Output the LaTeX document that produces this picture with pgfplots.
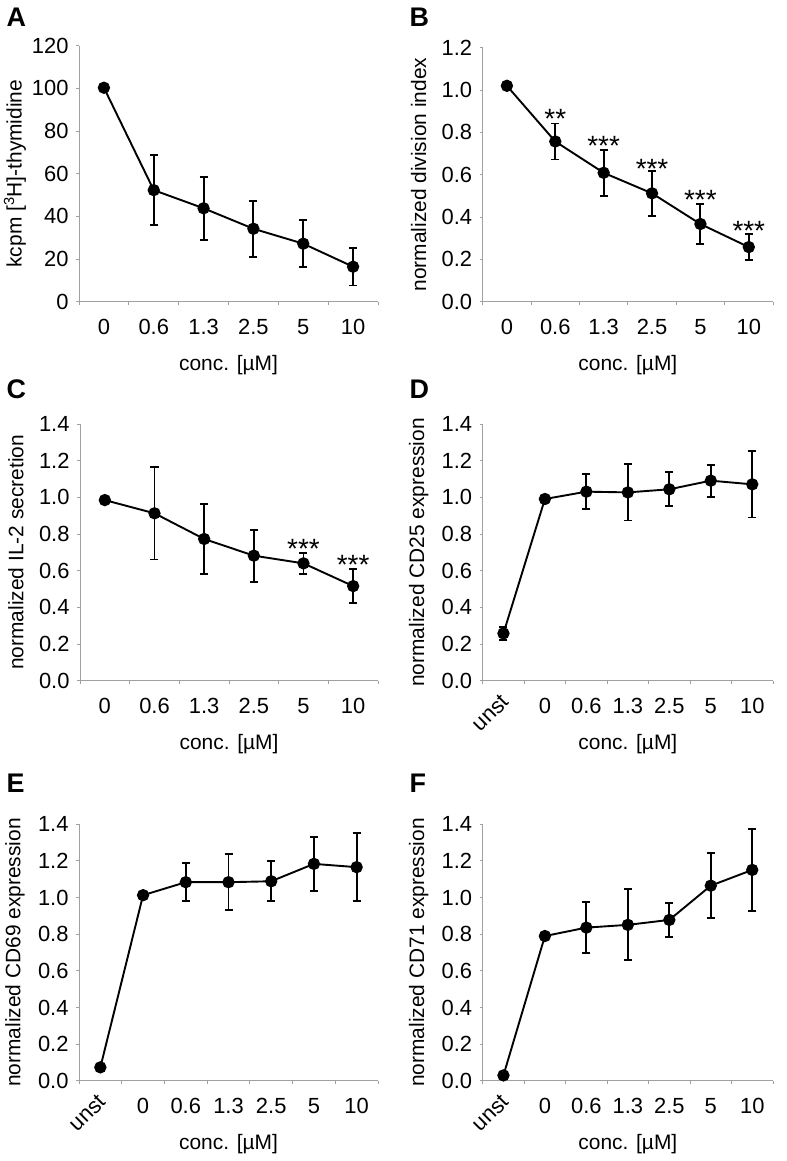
\documentclass[border=0pt]{standalone}
\usepackage{fontspec}
\setmainfont{Liberation Sans}
\usepackage{graphicx}
\usepackage{pgfplots}
\usepackage{pgfplotstable}
\pgfplotsset{compat=1.18}
\definecolor{axisgray}{RGB}{160,160,160}

\pgfplotstableread{
x y e
0 100.3 1.0
1 52.3 16.5
2 43.8 14.8
3 34.2 13.2
4 27.2 11.0
5 16.4 8.8
}\dataA
\pgfplotstableread{
x y e
0 1.020 0.010
1 0.757 0.085
2 0.609 0.108
3 0.512 0.106
4 0.367 0.095
5 0.258 0.060
}\dataB
\pgfplotstableread{
x y e
0 0.985 0.010
1 0.913 0.252
2 0.773 0.193
3 0.682 0.142
4 0.640 0.058
5 0.516 0.094
}\dataC
\pgfplotstableread{
x y e
0 0.258 0.037
1 0.991 0.010
2 1.031 0.094
3 1.027 0.153
4 1.044 0.092
5 1.091 0.087
6 1.071 0.181
}\dataD
\pgfplotstableread{
x y e
0 0.073 0.015
1 1.013 0.010
2 1.084 0.105
3 1.084 0.153
4 1.089 0.110
5 1.184 0.146
6 1.166 0.185
}\dataE
\pgfplotstableread{
x y e
0 0.029 0.010
1 0.790 0.010
2 0.836 0.138
3 0.851 0.194
4 0.878 0.094
5 1.065 0.177
6 1.151 0.224
}\dataF

\newcommand{\unst}{\makebox[0pt][r]{\raisebox{\dimexpr 20bp-\height\relax}[0pt][0pt]{\rotatebox{45}{unst}}\hspace*{-7bp}}}

\tikzset{
  stars/.style={anchor=base, yshift=-16bp, font=\fontsize{28}{28}\selectfont},
  letter/.style={anchor=base west, font=\bfseries\fontsize{27}{27}\selectfont},
}
\pgfplotsset{
  panel/.style={
    scale only axis,
    clip=false,
    enlargelimits=false,
    axis x line*=bottom,
    axis y line*=left,
    axis line style={draw=axisgray, line width=0.9bp},
    tick style={draw=axisgray, line width=0.9bp},
    tick align=outside,
    major tick length=3bp,
    minor tick length=3bp,
    major x tick style={draw=none},
    /pgf/number format/assume math mode=true,
    tick label style={font=\fontsize{22}{26}\selectfont},
    xticklabel style={text height=16bp, text depth=0bp, anchor=north, yshift=-10bp},
    yticklabel style={xshift=-4bp},
    label style={font=\fontsize{21}{25}\selectfont},
    xlabel={conc. [µM]},
    xlabel style={at={(axis description cs:0.5,0)}, anchor=center, yshift=-63bp},
    ylabel style={at={(axis description cs:0,0.5)}, anchor=center, yshift=64bp},
  },
  six/.style={
    xmin=-0.5, xmax=5.5,
    xtick={0,...,5},
    minor xtick={-0.5,0.5,...,5.5},
    xticklabels={0,0.6,1.3,2.5,5,10},
  },
  seven/.style={
    xmin=-0.5, xmax=6.5,
    xtick={0,...,6},
    minor xtick={-0.5,0.5,...,6.5},
    xticklabels={\unst,0,0.6,1.3,2.5,5,10},
  },
  dec/.style={
    yticklabel style={/pgf/number format/.cd, fixed, fixed zerofill, precision=1},
  },
  ser/.style={
    black, line width=1.9bp, mark=*, mark size=5.2bp,
    mark options={solid, fill=black},
    error bars/.cd, y dir=both, y explicit,
    error bar style={line width=1.9bp, black},
    error mark options={rotate=90, mark size=4bp, line width=1.9bp, black},
  },
}

\begin{document}
\begin{tikzpicture}
\useasboundingbox (0,0) rectangle (787bp,-1161bp);

% A
\node[letter] at (3bp,-26bp) {A};
\begin{axis}[panel, six, at={(79bp,-301.7bp)}, anchor=south west,
  width=299bp, height=256bp, ymin=0, ymax=120, ytick={0,20,...,120},
  ylabel={kcpm [\textsuperscript{3}H]-thymidine}]
\addplot[ser] table[x=x, y=y, y error=e] {\dataA};
\end{axis}

% B
\node[letter] at (406bp,-26bp) {B};
\begin{axis}[panel, six, dec, at={(482.7bp,-301.7bp)}, anchor=south west,
  width=290.3bp, height=254bp, ymin=0, ymax=1.2, ytick={0,0.2,...,1.21},
  ylabel={normalized division index}]
\addplot[ser] table[x=x, y=y, y error=e] {\dataB};
\node[stars] at (axis cs:1,0.893) {**};
\node[stars] at (axis cs:2,0.767) {***};
\node[stars] at (axis cs:3,0.658) {***};
\node[stars] at (axis cs:4,0.512) {***};
\node[stars] at (axis cs:5,0.367) {***};
\end{axis}

% C
\node[letter] at (3bp,-398bp) {C};
\begin{axis}[panel, six, dec, at={(80bp,-680.7bp)}, anchor=south west,
  width=298bp, height=256.7bp, ymin=0, ymax=1.4, ytick={0,0.2,...,1.41},
  ylabel={normalized IL-2 secretion}]
\addplot[ser] table[x=x, y=y, y error=e] {\dataC};
\node[stars] at (axis cs:4,0.755) {***};
\node[stars] at (axis cs:5,0.664) {***};
\end{axis}

% D
\node[letter] at (406bp,-398bp) {D};
\begin{axis}[panel, seven, dec, at={(482.7bp,-680.7bp)}, anchor=south west,
  width=290.3bp, height=256.7bp, ymin=0, ymax=1.4, ytick={0,0.2,...,1.41},
  ylabel={normalized CD25 expression}]
\addplot[ser] table[x=x, y=y, y error=e] {\dataD};
\end{axis}

% E
\node[letter] at (3bp,-792bp) {E};
\begin{axis}[panel, seven, dec, at={(79bp,-1080.7bp)}, anchor=south west,
  width=299bp, height=256.4bp, ymin=0, ymax=1.4, ytick={0,0.2,...,1.41},
  ylabel={normalized CD69 expression}]
\addplot[ser] table[x=x, y=y, y error=e] {\dataE};
\end{axis}

% F
\node[letter] at (406bp,-792bp) {F};
\begin{axis}[panel, seven, dec, at={(482.7bp,-1080.7bp)}, anchor=south west,
  width=290.3bp, height=256.4bp, ymin=0, ymax=1.4, ytick={0,0.2,...,1.41},
  ylabel={normalized CD71 expression}]
\addplot[ser] table[x=x, y=y, y error=e] {\dataF};
\end{axis}
\end{tikzpicture}
\end{document}
